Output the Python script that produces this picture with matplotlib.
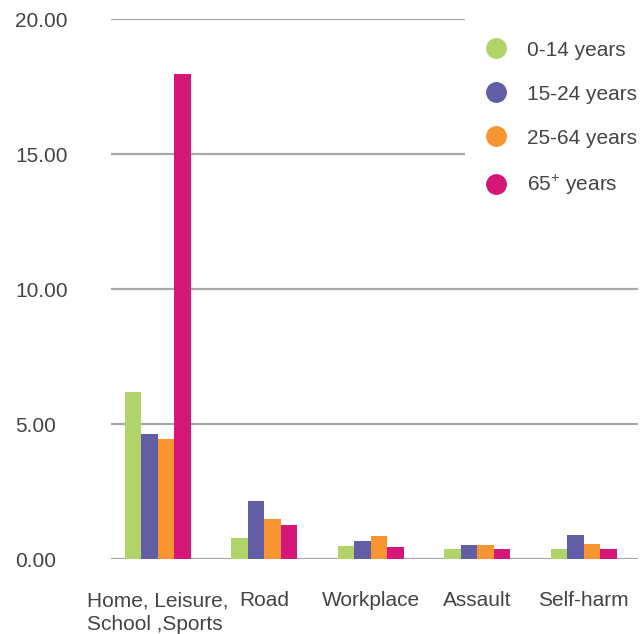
import numpy as np
import matplotlib
matplotlib.use("Agg")
import matplotlib.pyplot as plt
from matplotlib.lines import Line2D
from matplotlib.patches import Rectangle
from matplotlib.ticker import FormatStrFormatter

# Yaralanma türüne göre yaş gruplarının oranları
kategoriler = ["Home, Leisure,\nSchool ,Sports", "Road", "Workplace", "Assault", "Self-harm"]
yas_gruplari = ["0-14 years", "15-24 years", "25-64 years", "65$^{+}$ years"]
deger_0_14 = [6.20, 0.79, 0.49, 0.38, 0.38]
deger_15_24 = [4.64, 2.16, 0.68, 0.53, 0.90]
deger_25_64 = [4.46, 1.49, 0.86, 0.53, 0.57]
deger_65 = [17.97, 1.27, 0.46, 0.38, 0.38]
renkler = ["#b0d46a", "#615ea5", "#f89432", "#d5177a"]

plt.rcParams['font.family'] = ['Liberation Sans', 'DejaVu Sans']
plt.rcParams['mathtext.fontset'] = 'custom'
plt.rcParams['mathtext.rm'] = 'Liberation Sans'
yazi_rengi = "#444444"

fig = plt.figure(figsize=(6.41, 6.34), dpi=100)
ax = fig.add_axes([0.1732, 0.1178, 0.8221, 0.8518])

x = np.arange(len(kategoriler))
genislik = 0.155
seriler = [deger_0_14, deger_15_24, deger_25_64, deger_65]
for i, (seri, renk) in enumerate(zip(seriler, renkler)):
    ax.bar(x + (i - 1.5) * genislik, seri, genislik, color=renk, zorder=3)

ax.set_xlim(-0.44, 4.51)
ax.set_ylim(0, 20)
ax.set_yticks([0, 5, 10, 15, 20])
ax.yaxis.set_major_formatter(FormatStrFormatter('%.2f'))
ax.grid(axis='y', color='#a8a8a8', linewidth=1.6, zorder=1)
for s in ax.spines.values():
    s.set_visible(False)

ax.tick_params(axis='y', length=0, pad=69, labelsize=15, labelcolor=yazi_rengi)
for etiket in ax.get_yticklabels():
    etiket.set_horizontalalignment('left')

ax.set_xticks(x)
ax.set_xticklabels(kategoriler, fontsize=15, color=yazi_rengi, linespacing=1.3)
ax.tick_params(axis='x', length=0, pad=23)
ax.get_xticklabels()[0].set_multialignment('left')

# Lejantın arkasındaki beyaz alan (ızgara çizgilerini örter)
ax.add_patch(Rectangle((465 / 641, 1 - 210 / 634), 176 / 641, 200 / 634,
                       transform=fig.transFigure, facecolor='white',
                       edgecolor='none', zorder=2, clip_on=False))

# Lejant: renkli daireler
tutamaclar = [Line2D([0], [0], marker='o', linestyle='none', markersize=14,
                     markerfacecolor=r, markeredgecolor=r) for r in renkler]
leg = ax.legend(tutamaclar, yas_gruplari, loc='upper left',
                bbox_to_anchor=(467 / 641, 1 - 24 / 634), bbox_transform=fig.transFigure,
                frameon=False, fontsize=15, labelspacing=1.2,
                handletextpad=0.88, handlelength=1.2, borderpad=0.3)
for t in leg.get_texts():
    t.set_color(yazi_rengi)
leg.set_zorder(5)

fig.savefig("out.png", dpi=100)
